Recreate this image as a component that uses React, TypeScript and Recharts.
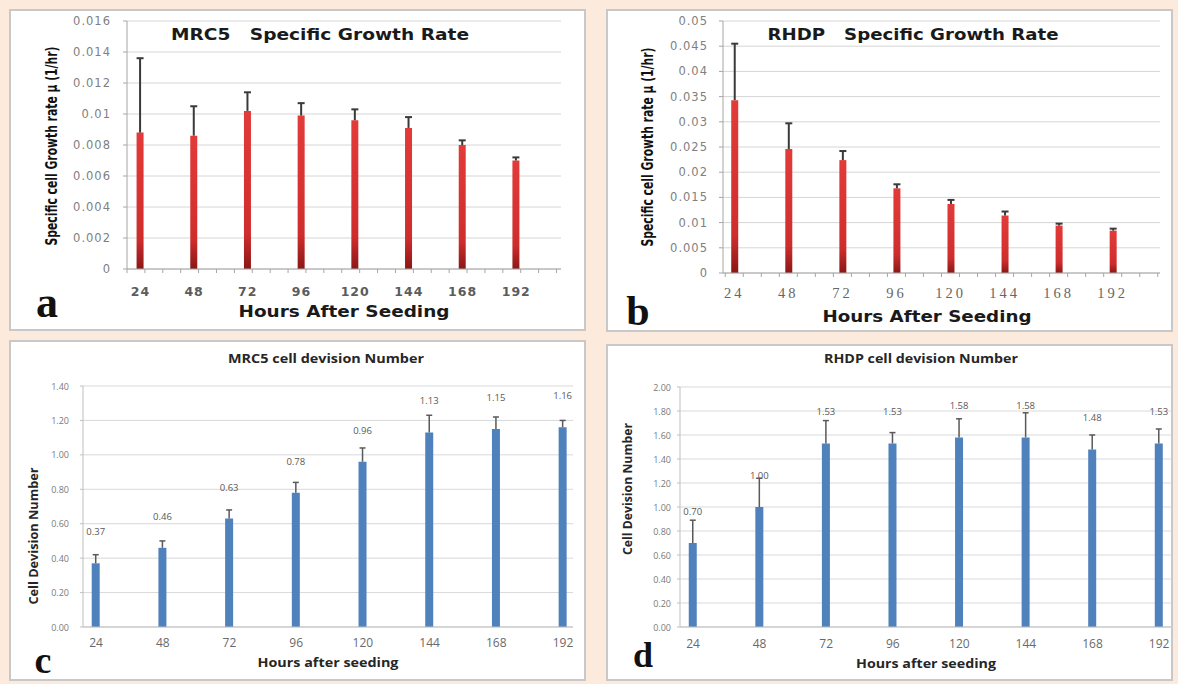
import { BarChart, Bar, XAxis, YAxis, CartesianGrid, LabelList } from 'recharts'

// Hours after seeding, shared by all four panels
const HOURS = [24, 48, 72, 96, 120, 144, 168, 192]

// a: MRC5 specific growth rate (1/hr) and its upper error
const MRC5_RATE = [0.0088, 0.0086, 0.0102, 0.0099, 0.0096, 0.0091, 0.008, 0.007]
const MRC5_RATE_ERR = [0.0048, 0.0019, 0.0012, 0.0008, 0.0007, 0.0007, 0.0003, 0.0002]

// b: RHDP specific growth rate (1/hr)
const RHDP_RATE = [0.0343, 0.0246, 0.0224, 0.0168, 0.0137, 0.0114, 0.0094, 0.0084]
const RHDP_RATE_ERR = [0.0112, 0.0051, 0.0018, 0.0008, 0.0008, 0.0008, 0.0004, 0.0004]

// c: MRC5 cell division number
const MRC5_DIV = [0.37, 0.46, 0.63, 0.78, 0.96, 1.13, 1.15, 1.16]
const MRC5_DIV_ERR = [0.05, 0.04, 0.05, 0.06, 0.08, 0.1, 0.07, 0.04]

// d: RHDP cell division number
const RHDP_DIV = [0.7, 1.0, 1.53, 1.53, 1.58, 1.58, 1.48, 1.53]
const RHDP_DIV_ERR = [0.19, 0.24, 0.19, 0.09, 0.155, 0.205, 0.12, 0.12]

const RATE_TICKS_A = [0, 0.002, 0.004, 0.006, 0.008, 0.01, 0.012, 0.014, 0.016]
const RATE_TICKS_B = [0, 0.005, 0.01, 0.015, 0.02, 0.025, 0.03, 0.035, 0.04, 0.045, 0.05]
const DIV_TICKS_C = [0, 0.2, 0.4, 0.6, 0.8, 1.0, 1.2, 1.4]
const DIV_TICKS_D = [0, 0.2, 0.4, 0.6, 0.8, 1.0, 1.2, 1.4, 1.6, 1.8, 2.0]

const PAGE_BG = '#fcebdc'
const BLUE = '#4f81bd'

interface Row {
  hour: number
  value: number
  err: number
}

const toRows = (vals: number[], errs: number[]): Row[] =>
  HOURS.map((h, i) => ({ hour: h, value: vals[i], err: errs[i] }))

// Excel-style minor tick marks along the hours axis
function minorTicks(start: number, end: number, step: number) {
  const out: number[] = []
  for (let t = start; t <= end + 0.001; t += step) out.push(t)
  return out
}

interface TextStyle {
  fontFamily: string
  fontSize: number
  fontWeight?: number | string
  fill: string
  letterSpacing?: number
}

interface TickProps {
  x?: number
  y?: number
  payload?: { value: number }
}

function makeXTick(style: TextStyle, dy: number, minorLen: number, minorColor: string) {
  return function XTick({ x = 0, y = 0, payload }: TickProps) {
    const v = payload ? payload.value : 0
    if (HOURS.includes(v)) {
      return (
        <text
          x={x}
          y={y + dy}
          textAnchor="middle"
          dominantBaseline="central"
          fontFamily={style.fontFamily}
          fontSize={style.fontSize}
          fontWeight={style.fontWeight}
          fill={style.fill}
          style={{ letterSpacing: style.letterSpacing ?? 0 }}
        >
          {v}
        </text>
      )
    }
    if (minorLen > 0)
      return <line x1={x} x2={x} y1={y} y2={y + minorLen} stroke={minorColor} strokeWidth={1} />
    return <g />
  }
}

function makeYTick(style: TextStyle, fmt: (v: number) => string) {
  return function YTick({ x = 0, y = 0, payload }: TickProps) {
    return (
      <text
        x={x}
        y={y}
        textAnchor="end"
        dominantBaseline="central"
        fontFamily={style.fontFamily}
        fontSize={style.fontSize}
        fontWeight={style.fontWeight}
        fill={style.fill}
        style={{ letterSpacing: style.letterSpacing ?? 0 }}
      >
        {fmt(payload ? payload.value : 0)}
      </text>
    )
  }
}

// "plus" error bar drawn on the stacked err segment
// eslint-disable-next-line @typescript-eslint/no-explicit-any
function Whisker(props: any) {
  const { x, y, width, height, color, cap, sw } = props
  if (!height || height <= 0) return <g />
  const cx = x + width / 2
  return (
    <g stroke={color} strokeWidth={sw}>
      <line x1={cx} x2={cx} y1={y} y2={y + height} />
      <line x1={cx - cap} x2={cx + cap} y1={y} y2={y} />
    </g>
  )
}

interface ChartSpec {
  id: string
  left: number
  top: number
  width: number
  height: number
  margin: { top: number; right: number; bottom: number; left: number }
  rows: Row[]
  yTicks: number[]
  yFmt: (v: number) => string
  yStyle: TextStyle
  yWidth: number
  yTickSize: number
  yTickMargin: number
  xDomain: [number, number]
  xMinor: number[]
  xStyle: TextStyle
  xDy: number
  axisColor: string
  gridColor: string
  barSize: number
  fill: string
  gradient?: boolean
  whiskerColor: string
  cap: number
  whiskerWidth: number
  labelOffset?: number
}

const rateY = (v: number) => String(v)
const divY = (v: number) => v.toFixed(2)

const DEJAVU_TICK: TextStyle = { fontFamily: 'DejaVu Sans', fontSize: 11.5, fill: '#808080', letterSpacing: 1 }
const CALIBRI_Y: TextStyle = { fontFamily: 'Open Sans', fontSize: 9, fill: '#7a7a7a' }
const CALIBRI_X: TextStyle = { fontFamily: 'Open Sans', fontSize: 12, fill: '#6a6a6a' }

const CHARTS: ChartSpec[] = [
  {
    id: 'a',
    left: 9,
    top: 9,
    width: 577,
    height: 322,
    margin: { top: 12, right: 25, bottom: 32, left: 58 },
    rows: toRows(MRC5_RATE, MRC5_RATE_ERR),
    yTicks: RATE_TICKS_A,
    yFmt: rateY,
    yStyle: DEJAVU_TICK,
    yWidth: 60,
    yTickSize: 4,
    yTickMargin: 12,
    xDomain: [18, 212],
    xMinor: minorTicks(18, 212, 8),
    xStyle: { fontFamily: 'DejaVu Sans', fontSize: 12.5, fontWeight: 'bold', fill: '#5c5c5c', letterSpacing: 1 },
    xDy: 22,
    axisColor: '#a6a6a6',
    gridColor: '#d6d6d6',
    barSize: 7,
    fill: 'url(#redBar-a)',
    gradient: true,
    whiskerColor: '#3a3a3a',
    cap: 3.5,
    whiskerWidth: 2,
  },
  {
    id: 'b',
    left: 606,
    top: 9,
    width: 567,
    height: 323,
    margin: { top: 12, right: 13, bottom: 29, left: 57 },
    rows: toRows(RHDP_RATE, RHDP_RATE_ERR),
    yTicks: RATE_TICKS_B,
    yFmt: rateY,
    yStyle: DEJAVU_TICK,
    yWidth: 60,
    yTickSize: 4,
    yTickMargin: 11,
    xDomain: [19, 213],
    xMinor: minorTicks(20, 213, 8),
    xStyle: { fontFamily: 'Liberation Serif', fontSize: 14.5, fill: '#666666', letterSpacing: 3 },
    xDy: 20,
    axisColor: '#a6a6a6',
    gridColor: '#d6d6d6',
    barSize: 7,
    fill: 'url(#redBar-b)',
    gradient: true,
    whiskerColor: '#3a3a3a',
    cap: 3.5,
    whiskerWidth: 2,
  },
  {
    id: 'c',
    left: 9,
    top: 340,
    width: 577,
    height: 341,
    margin: { top: 46, right: 13, bottom: 24, left: 24 },
    rows: toRows(MRC5_DIV, MRC5_DIV_ERR),
    yTicks: DIV_TICKS_C,
    yFmt: divY,
    yStyle: CALIBRI_Y,
    yWidth: 50,
    yTickSize: 3,
    yTickMargin: 11,
    xDomain: [19.3, 195.6],
    xMinor: [],
    xStyle: CALIBRI_X,
    xDy: 15,
    axisColor: '#bfbfbf',
    gridColor: '#d9d9d9',
    barSize: 8,
    fill: BLUE,
    whiskerColor: '#595959',
    cap: 3,
    whiskerWidth: 1.5,
    labelOffset: 28,
  },
  {
    id: 'd',
    left: 606,
    top: 344,
    width: 567,
    height: 337,
    margin: { top: 43, right: 2, bottom: 24, left: 24 },
    rows: toRows(RHDP_DIV, RHDP_DIV_ERR),
    yTicks: DIV_TICKS_D,
    yFmt: divY,
    yStyle: CALIBRI_Y,
    yWidth: 50,
    yTickSize: 3,
    yTickMargin: 6,
    xDomain: [19.3, 196.3],
    xMinor: [],
    xStyle: CALIBRI_X,
    xDy: 16,
    axisColor: '#bfbfbf',
    gridColor: '#d9d9d9',
    barSize: 8,
    fill: BLUE,
    whiskerColor: '#595959',
    cap: 3,
    whiskerWidth: 1.5,
    labelOffset: 28,
  },
]

function PanelChart({ spec }: { spec: ChartSpec }) {
  const xTicks = [...spec.xMinor, ...HOURS].sort((p, q) => p - q)
  return (
    <div style={{ position: 'absolute', left: spec.left, top: spec.top }}>
      <BarChart
        width={spec.width}
        height={spec.height}
        data={spec.rows}
        margin={spec.margin}
        barSize={spec.barSize}
      >
        {spec.gradient && (
          <defs>
            <linearGradient id={`redBar-${spec.id}`} x1="0" y1="0" x2="0" y2="1">
              <stop offset="0%" stopColor="#e23b39" />
              <stop offset="78%" stopColor="#cf2d2d" />
              <stop offset="100%" stopColor="#8a1717" />
            </linearGradient>
          </defs>
        )}
        <CartesianGrid stroke={spec.gridColor} vertical={false} />
        <XAxis
          dataKey="hour"
          type="number"
          domain={spec.xDomain}
          ticks={xTicks}
          interval={0}
          tickSize={0}
          tickMargin={0}
          tickLine={false}
          axisLine={{ stroke: spec.axisColor }}
          height={30}
          tick={makeXTick(spec.xStyle, spec.xDy, 4, spec.axisColor)}
        />
        <YAxis
          type="number"
          domain={[spec.yTicks[0], spec.yTicks[spec.yTicks.length - 1]]}
          ticks={spec.yTicks}
          interval={0}
          width={spec.yWidth}
          tickSize={spec.yTickSize}
          tickMargin={spec.yTickMargin}
          tickLine={{ stroke: spec.axisColor }}
          axisLine={{ stroke: spec.axisColor }}
          tick={makeYTick(spec.yStyle, spec.yFmt)}
        />
        <Bar dataKey="value" stackId="s" fill={spec.fill} isAnimationActive={false}>
          {spec.labelOffset !== undefined && (
            <LabelList
              dataKey="value"
              position="top"
              offset={spec.labelOffset}
              formatter={(v: unknown) => Number(v).toFixed(2)}
              fill="#595959"
              fontSize={9.5}
              fontFamily="Open Sans"
            />
          )}
        </Bar>
        <Bar
          dataKey="err"
          stackId="s"
          fill="none"
          isAnimationActive={false}
          // eslint-disable-next-line @typescript-eslint/no-explicit-any
          shape={(p: any) => (
            <Whisker {...p} color={spec.whiskerColor} cap={spec.cap} sw={spec.whiskerWidth} />
          )}
        />
      </BarChart>
    </div>
  )
}

// panel frames: left, top, width, height
const FRAMES = [
  [9, 9, 577, 322],
  [606, 9, 567, 323],
  [9, 340, 577, 341],
  [606, 344, 567, 337],
]

const HEAVY = 'DejaVu Sans'
const CONDENSED = "'DejaVu Sans Condensed', 'DejaVu Sans', sans-serif"
const SERIF = "'Liberation Serif', serif"

// rotated, horizontally squeezed axis title (condensed Calibri look)
function GrowthRateTitle({ cx, cy }: { cx: number; cy: number }) {
  return (
    <g transform={`translate(${cx} ${cy}) rotate(-90) scale(0.8 1)`}>
      <text
        x={0}
        y={0}
        textAnchor="middle"
        dominantBaseline="central"
        fontFamily={CONDENSED}
        fontWeight="bold"
        fontSize={15}
        fill="#111"
      >
        Specific cell Growth rate µ (1/hr)
      </text>
    </g>
  )
}

function Overlay() {
  const centered = { textAnchor: 'middle' as const, dominantBaseline: 'central' as const }
  return (
    <svg
      width={1178}
      height={684}
      style={{ position: 'absolute', left: 0, top: 0, pointerEvents: 'none' }}
    >
      {/* a */}
      <text x={320} y={35} {...centered} fontFamily={HEAVY} fontWeight="bold" fontSize={15} fill="#1a1a1a"
        textLength={298} lengthAdjust="spacingAndGlyphs" style={{ whiteSpace: 'pre' }}>
        {'MRC5   Specific Growth Rate'}
      </text>
      <text x={344} y={312} {...centered} fontFamily={HEAVY} fontWeight="bold" fontSize={15} fill="#1a1a1a"
        textLength={211} lengthAdjust="spacingAndGlyphs">
        Hours After Seeding
      </text>
      <GrowthRateTitle cx={51} cy={146} />
      <text x={47} y={317} textAnchor="middle" fontFamily={SERIF} fontWeight="bold" fontSize={44} fill="#111">a</text>

      {/* b */}
      <text x={913} y={35} {...centered} fontFamily={HEAVY} fontWeight="bold" fontSize={15} fill="#1a1a1a"
        textLength={291} lengthAdjust="spacingAndGlyphs" style={{ whiteSpace: 'pre' }}>
        {'RHDP   Specific Growth Rate'}
      </text>
      <text x={927} y={317} {...centered} fontFamily={HEAVY} fontWeight="bold" fontSize={15} fill="#1a1a1a"
        textLength={209} lengthAdjust="spacingAndGlyphs">
        Hours After Seeding
      </text>
      <GrowthRateTitle cx={647} cy={147} />
      <text x={638} y={325} textAnchor="middle" fontFamily={SERIF} fontWeight="bold" fontSize={42} fill="#111">b</text>

      {/* c */}
      <text x={326} y={358} {...centered} fontFamily="Open Sans" fontWeight="bold" fontSize={13} fill="#262626"
        textLength={196} lengthAdjust="spacingAndGlyphs">
        MRC5 cell devision Number
      </text>
      <text x={328} y={662} {...centered} fontFamily="Open Sans" fontWeight="bold" fontSize={12.5} fill="#262626"
        textLength={141} lengthAdjust="spacingAndGlyphs">
        Hours after seeding
      </text>
      <text x={33} y={536} {...centered} transform="rotate(-90 33 536)" fontFamily="Open Sans" fontWeight="bold"
        fontSize={12.5} fill="#262626" textLength={137} lengthAdjust="spacingAndGlyphs">
        Cell Devision Number
      </text>
      <text x={43} y={673} textAnchor="middle" fontFamily={SERIF} fontWeight="bold" fontSize={38} fill="#111">c</text>

      {/* d */}
      <text x={921} y={358} {...centered} fontFamily="Open Sans" fontWeight="bold" fontSize={13} fill="#262626"
        textLength={194} lengthAdjust="spacingAndGlyphs">
        RHDP cell devision Number
      </text>
      <text x={926} y={663} {...centered} fontFamily="Open Sans" fontWeight="bold" fontSize={12.5} fill="#262626"
        textLength={140} lengthAdjust="spacingAndGlyphs">
        Hours after seeding
      </text>
      <text x={627} y={489} {...centered} transform="rotate(-90 627 489)" fontFamily="Open Sans" fontWeight="bold"
        fontSize={12.5} fill="#262626" textLength={132} lengthAdjust="spacingAndGlyphs">
        Cell Devision Number
      </text>
      <text x={643} y={667} textAnchor="middle" fontFamily={SERIF} fontWeight="bold" fontSize={36} fill="#111">d</text>
    </svg>
  )
}

export default function App() {
  return (
    <div
      style={{
        position: 'absolute',
        left: 0,
        top: 0,
        width: 1178,
        height: 684,
        background: PAGE_BG,
        overflow: 'hidden',
      }}
    >
      {FRAMES.map(([l, t, w, h], i) => (
        <div
          key={i}
          style={{
            position: 'absolute',
            left: l,
            top: t,
            width: w,
            height: h,
            background: '#ffffff',
            outline: '2px solid #c8c8c8',
            outlineOffset: -2,
          }}
        />
      ))}
      {CHARTS.map((c) => (
        <PanelChart key={c.id} spec={c} />
      ))}
      <Overlay />
    </div>
  )
}
